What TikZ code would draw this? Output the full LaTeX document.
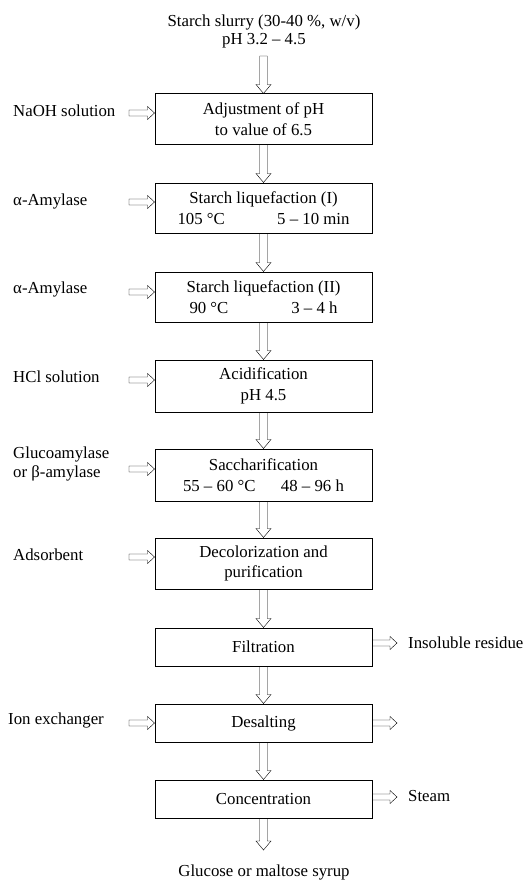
\documentclass[tikz,border=0pt]{standalone}
\usepackage{fontspec}
\setmainfont{Liberation Serif}
\usetikzlibrary{calc}
\newcommand\fsz{\fontsize{16.8}{20.5}\selectfont}
\tikzset{
  box/.style={draw, line width=1pt, minimum width=217pt, inner sep=0pt, align=center, font=\fsz},
  lbl/.style={inner sep=0pt, font=\fsz, anchor=west, align=left},
  ctext/.style={inner sep=0pt, font=\fsz, align=center},
  darrow/.style={line width=0.95pt, line join=miter, to path={let \p1=(\tikztostart), \p2=(\tikztotarget) in
     (\x1-3.75pt,\y1) -- (\x1-3.75pt,\y2+9pt) -- (\x1-7.5pt,\y2+9pt) -- (\x1,\y2) -- (\x1+7.5pt,\y2+9pt) -- (\x1+3.75pt,\y2+9pt) -- (\x1+3.75pt,\y1) -- cycle}},
  rarrow/.style={line width=0.95pt, line join=miter, to path={let \p1=(\tikztostart), \p2=(\tikztotarget) in
     (\x1,\y1+3pt) -- (\x2-7pt,\y1+3pt) -- (\x2-7pt,\y1+6.5pt) -- (\x2,\y1) -- (\x2-7pt,\y1-6.5pt) -- (\x2-7pt,\y1-3pt) -- (\x1,\y1-3pt) -- cycle}}
}
\begin{document}
\begin{tikzpicture}[x=1pt, y=-1pt]
\useasboundingbox (0,0) rectangle (524,880);
% boxes
\node[box, minimum height=50pt] (b1) at (263.5,119) {Adjustment of pH\\to value of 6.5};
\node[box, minimum height=50pt] (b2) at (263.5,208) {Starch liquefaction (I)\\\makebox[172pt]{105 °C\hfill 5 – 10 min}};
\node[box, minimum height=50pt] (b3) at (263.5,297) {Starch liquefaction (II)\\\makebox[148pt]{90 °C\hfill 3 – 4 h}};
\node[box, minimum height=52pt] (b4) at (263.5,386) {Acidification\\pH 4.5};
\node[box, minimum height=52pt] (b5) at (263.5,475) {Saccharification\\\makebox[161pt]{55 – 60 °C\hfill 48 – 96 h}};
\node[box, minimum height=51pt] (b6) at (263.5,563.5) {Decolorization and\\purification};
\node[box, minimum height=38pt] (b7) at (263.5,647) {Filtration};
\node[box, minimum height=38pt] (b8) at (263.5,723) {Desalting};
\node[box, minimum height=38pt] (b9) at (263.5,799) {Concentration};
% top and bottom texts
\node[ctext, font=\fontsize{16.8}{18}\selectfont] (top) at (264,31.5) {Starch slurry (30-40 \%, w/v)\\pH 3.2 – 4.5};
\coordinate (topa) at (263.5,56);
\node[ctext] (end) at (264,872) {Glucose or maltose syrup};
\coordinate (enda) at (263.5,850);
% vertical arrows
\draw (topa) to[darrow] (b1.north);
\draw (b1.south) to[darrow] (b2.north);
\draw (b2.south) to[darrow] (b3.north);
\draw (b3.south) to[darrow] (b4.north);
\draw (b4.south) to[darrow] (b5.north);
\draw (b5.south) to[darrow] (b6.north);
\draw (b6.south) to[darrow] (b7.north);
\draw (b7.south) to[darrow] (b8.north);
\draw (b8.south) to[darrow] (b9.north);
\draw (b9.south) to[darrow] (enda);
% left inputs
\node[lbl] (i1) at (13,111) {NaOH solution};
\node[lbl] (i2) at (13,201) {α-Amylase};
\node[lbl] (i3) at (13,289) {α-Amylase};
\node[lbl] (i4) at (13,377) {HCl solution};
\node[lbl, font=\fontsize{16.8}{18.5}\selectfont] (i5) at (13,464) {Glucoamylase\\or β-amylase};
\node[lbl] (i6) at (13,555) {Adsorbent};
\node[lbl] (i8) at (8,720) {Ion exchanger};
\coordinate (l1) at (129,113);
\coordinate (l2) at (129,202);
\coordinate (l3) at (129,292);
\coordinate (l4) at (129,380);
\coordinate (l5) at (129,469);
\coordinate (l6) at (129,557);
\coordinate (l8) at (129,723);
\draw (l1) to[rarrow] (b1.west |- l1);
\draw (l2) to[rarrow] (b2.west |- l2);
\draw (l3) to[rarrow] (b3.west |- l3);
\draw (l4) to[rarrow] (b4.west |- l4);
\draw (l5) to[rarrow] (b5.west |- l5);
\draw (l6) to[rarrow] (b6.west |- l6);
\draw (l8) to[rarrow] (b8.west |- l8);
% right outputs
\coordinate (r7) at (397,643);
\coordinate (r8) at (397,723);
\coordinate (r9) at (397,797);
\draw (b7.east |- r7) to[rarrow] (r7);
\draw (b8.east |- r8) to[rarrow] (r8);
\draw (b9.east |- r9) to[rarrow] (r9);
\node[lbl] (o7) at (408,643) {Insoluble residue};
\node[lbl] (o9) at (408,796) {Steam};
\end{tikzpicture}
\end{document}
